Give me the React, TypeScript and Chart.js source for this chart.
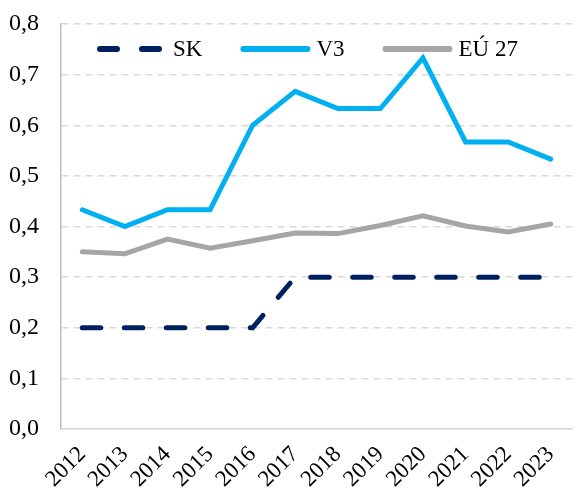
import React, { useEffect, useRef } from "react";
import { Chart, registerables } from "chart.js";

Chart.register(...registerables);

const years = ["2012", "2013", "2014", "2015", "2016", "2017", "2018", "2019", "2020", "2021", "2022", "2023"];
const skValues = [0.2, 0.2, 0.2, 0.2, 0.2, 0.3, 0.3, 0.3, 0.3, 0.3, 0.3, 0.3];
const v3Values = [0.433, 0.4, 0.433, 0.433, 0.6, 0.667, 0.633, 0.633, 0.733, 0.567, 0.567, 0.533];
const euValues = [0.35, 0.346, 0.375, 0.357, 0.372, 0.387, 0.386, 0.402, 0.421, 0.401, 0.389, 0.405];
const seriesNames = ["SK", "V3", "EÚ 27"];

const FONT = "'Liberation Serif'";
const SK_DASH = [18.5, 23.5];

const insideLegend = {
  id: "insideLegend",
  afterDraw(chart: any) {
    const { ctx, chartArea } = chart;
    const y = chartArea.top + 25;
    let x = chartArea.left + 36;
    ctx.save();
    ctx.font = `23px ${FONT}`;
    ctx.textBaseline = "middle";
    chart.data.datasets.forEach((ds: any) => {
      ctx.beginPath();
      ctx.lineWidth = 6;
      ctx.lineCap = "round";
      ctx.strokeStyle = ds.borderColor;
      if (ds.borderDash && ds.borderDash.length) {
        ctx.setLineDash([17, 25]);
      } else {
        ctx.setLineDash([]);
      }
      ctx.moveTo(x + 3, y);
      ctx.lineTo(x + 67, y);
      ctx.stroke();
      ctx.setLineDash([]);
      ctx.fillStyle = "#000";
      ctx.fillText(ds.label, x + 76, y + 1);
      const w = ctx.measureText(ds.label).width;
      x = x + 76 + w + 38;
    });
    ctx.restore();
  },
};

export default function App() {
  const ref = useRef<HTMLCanvasElement | null>(null);
  useEffect(() => {
    let chart: Chart | null = null;
    let cancelled = false;
    const build = () => {
      if (cancelled || !ref.current) return;
      chart = new Chart(ref.current, {
        type: "line",
        data: {
          labels: years,
          datasets: [
            {
              label: seriesNames[0],
              data: skValues,
              borderColor: "#002060",
              backgroundColor: "#002060",
              borderWidth: 5,
              borderDash: SK_DASH,
              borderCapStyle: "round",
              pointRadius: 0,
              tension: 0,
            },
            {
              label: seriesNames[1],
              data: v3Values,
              borderColor: "#00B0F0",
              backgroundColor: "#00B0F0",
              borderWidth: 5,
              borderCapStyle: "round",
              pointRadius: 0,
              tension: 0,
            },
            {
              label: seriesNames[2],
              data: euValues,
              borderColor: "#A6A6A6",
              backgroundColor: "#A6A6A6",
              borderWidth: 5,
              borderCapStyle: "round",
              pointRadius: 0,
              tension: 0,
            },
          ],
        },
        options: {
          animation: false,
          responsive: false,
          maintainAspectRatio: false,
          layout: { padding: { left: 8, right: 5, top: 24, bottom: 0 } },
          plugins: {
            legend: { display: false },
            tooltip: { enabled: false },
          },
          scales: {
            x: {
              offset: true,
              grid: { display: false, drawTicks: false },
              border: { display: true, color: "#D9D9D9", width: 1.5 },
              ticks: {
                color: "#000",
                font: { family: FONT, size: 23 },
                maxRotation: 45,
                minRotation: 45,
                padding: 12,
                autoSkip: false,
              },
              afterFit: (scale: any) => {
                scale.paddingLeft = 0;
                scale.paddingRight = 0;
                scale.height = 63;
              },
            },
            y: {
              min: 0,
              max: 0.8,
              grid: {
                color: "#D9D9D9",
                lineWidth: 1.5,
                drawTicks: false,
              },
              border: { display: true, color: "#BFBFBF", width: 1.5, dash: [7, 5] },
              ticks: {
                stepSize: 0.1,
                color: "#000",
                font: { family: FONT, size: 24 },
                padding: 22,
                callback: (v: any) => Number(v).toFixed(1).replace(".", ","),
              },
              afterFit: (scale: any) => {
                scale.paddingTop = 0;
                scale.paddingBottom = 0;
                scale.width = 53;
              },
            },
          },
        },
        plugins: [insideLegend],
      });
    };
    const fonts: any = (document as any).fonts;
    if (fonts && fonts.load) {
      Promise.all([fonts.load(`20px ${FONT}`), fonts.load(`23px ${FONT}`, "SKEÚ 0123456789,")])
        .catch(() => null)
        .then(build);
    } else {
      build();
    }
    return () => {
      cancelled = true;
      if (chart) chart.destroy();
    };
  }, []);
  return (
    <div style={{ position: "fixed", left: 0, top: 0, width: 577, height: 492, background: "#fff" }}>
      <canvas ref={ref} width={577} height={492} style={{ width: 577, height: 492 }} />
    </div>
  );
}
